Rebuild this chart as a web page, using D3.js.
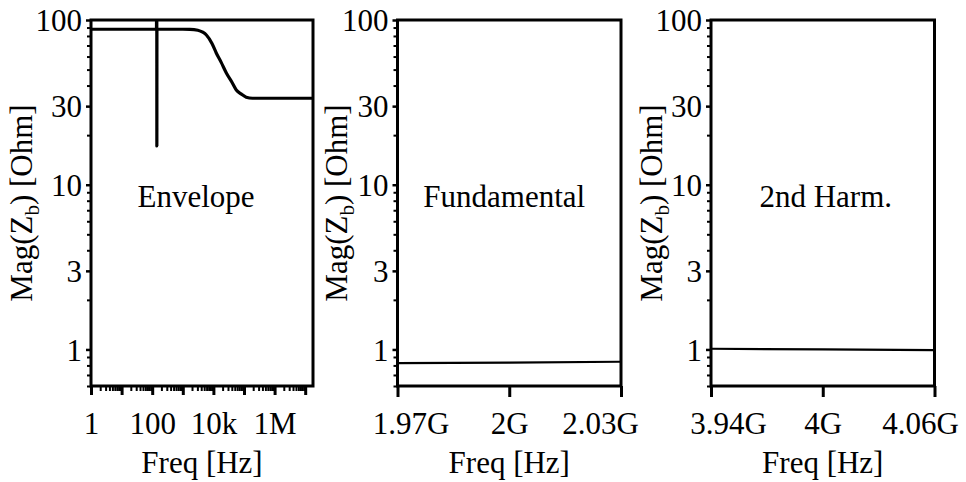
<!DOCTYPE html>
<html>
<head>
<meta charset="utf-8">
<script src="https://cdn.jsdelivr.net/npm/d3@7"></script>
<style>
  html, body { margin: 0; padding: 0; background: #fff; }
  svg { display: block; }
  text { font-family: "Liberation Serif", "Times New Roman", serif; fill: #000; }
</style>
</head>
<body>
<svg id="chart" width="966" height="482"></svg>
<script>
// Impedance magnitude |Zb| vs frequency, three bands

// Envelope band (log frequency)
const envFreq = [1, 10, 100, 138, 141, 142, 143, 1000, 1700, 3100, 4500, 5900, 9000, 12400, 18000, 26500, 40000, 56000, 80000, 118000, 190000, 400000, 1e6, 1e7, 1.8e7];
const envMag  = [87.9, 87.9, 87.9, 87.9, 400, 17.2, 87.9, 87.9, 87.8, 86.7, 84.3, 81.1, 72, 63.1, 55.3, 47.7, 42, 37.6, 35.6, 34.0, 33.5, 33.5, 33.5, 33.5, 33.5];

// Fundamental band
const fundFreq = [1.97e9, 2.0e9, 2.03e9];
const fundMag  = [0.825, 0.832, 0.842];

// Second harmonic band
const harmFreq = [3.94e9, 4.0e9, 4.06e9];
const harmMag  = [1.01, 1.0, 0.99];

// Axis ticks
const yMajorTicks = [1, 3, 10, 30, 100];
const yMinorTicks = [0.6, 0.7, 0.8, 0.9, 2, 4, 5, 6, 7, 8, 9, 20, 40, 50, 60, 70, 80, 90];
const envMajorTicks = [1, 10, 100, 1e3, 1e4, 1e5, 1e6, 1e7];
const envTickLabels = { 1: "1", 100: "100", 10000: "10k", 1000000: "1M" };
const fundTicks = [1.97e9, 2.0e9, 2.03e9];
const fundTickLabels = ["1.97G", "2G", "2.03G"];
const harmTicks = [3.94e9, 4.0e9, 4.06e9];
const harmTickLabels = ["3.94G", "4G", "4.06G"];

const bandNames = ["Envelope", "Fundamental", "2nd Harm."];
const yDomain = [0.6, 100];

const svg = d3.select("#chart");
const FONT = 31;
const plotTop = 20, plotBottom = 386;

const y = d3.scaleLog().domain(yDomain).range([plotBottom, plotTop]);

const panels = [
  { x0: 91, x1: 313, ylabX: 22, lineW: 3.2,
    x: d3.scaleLog().domain([1, 1.8e7]), freq: envFreq, mag: envMag, name: bandNames[0], log: true },
  { x0: 397.5, x1: 621, ylabX: 337, lineW: 2.2,
    x: d3.scaleLinear().domain([1.97e9, 2.03e9]), freq: fundFreq, mag: fundMag, name: bandNames[1],
    ticks: fundTicks, labels: fundTickLabels, nudge: [13, 0, -21] },
  { x0: 711, x1: 934.5, ylabX: 652, lineW: 2.2,
    x: d3.scaleLinear().domain([3.94e9, 4.06e9]), freq: harmFreq, mag: harmMag, name: bandNames[2],
    ticks: harmTicks, labels: harmTickLabels, nudge: [17, 0, -14.5] }
];

panels.forEach((p, i) => {
  p.x.range([p.x0, p.x1]);
  const g = svg.append("g");

  const clipId = "clip" + i;
  svg.append("clipPath").attr("id", clipId)
    .append("rect").attr("x", p.x0).attr("y", plotTop).attr("width", p.x1 - p.x0).attr("height", plotBottom - plotTop);

  // data line
  const pts = p.freq.map((f, k) => [f, p.mag[k]]);
  const line = d3.line()
    .x(d => p.x(d[0]))
    .y(d => y(d[1]))
    .curve(d3.curveMonotoneX);
  g.append("path")
    .attr("d", line(pts))
    .attr("clip-path", `url(#${clipId})`)
    .attr("fill", "none")
    .attr("stroke", "#000")
    .attr("stroke-width", p.lineW)
    .attr("stroke-linejoin", "round");

  // y axis: major and minor ticks
  const yMinor = g.append("g").attr("transform", `translate(${p.x0},0)`)
    .call(d3.axisLeft(y).tickValues(yMinorTicks).tickSize(4).tickFormat(""));
  yMinor.select(".domain").remove();
  yMinor.selectAll("line").attr("stroke-width", 2);

  const yMajor = g.append("g").attr("transform", `translate(${p.x0},0)`)
    .call(d3.axisLeft(y).tickValues(yMajorTicks).tickSize(5).tickPadding(4).tickFormat(d3.format("d")));
  yMajor.select(".domain").remove();
  yMajor.selectAll("line").attr("stroke-width", 2.5);
  yMajor.selectAll("text").attr("font-size", FONT).attr("dy", "0.34em");

  // x axis
  if (p.log) {
    const decades = envMajorTicks;
    const minors = [];
    decades.forEach(d => { for (let m = 2; m <= 9; m++) { const v = d * m; if (v <= p.x.domain()[1]) minors.push(v); } });
    const xMinor = g.append("g").attr("transform", `translate(0,${plotBottom})`)
      .call(d3.axisBottom(p.x).tickValues(minors).tickSize(5).tickFormat(""));
    xMinor.select(".domain").remove();
    xMinor.selectAll("line").attr("stroke-width", 2);

    const xMajor = g.append("g").attr("transform", `translate(0,${plotBottom})`)
      .call(d3.axisBottom(p.x).tickValues(decades).tickSize(9).tickPadding(17)
        .tickFormat(d => envTickLabels[d] || ""));
    xMajor.select(".domain").remove();
    xMajor.selectAll("line").attr("stroke-width", 3);
    xMajor.selectAll("text").attr("font-size", FONT).attr("dy", "0.71em");
  } else {
    const xAx = g.append("g").attr("transform", `translate(0,${plotBottom})`)
      .call(d3.axisBottom(p.x).tickValues(p.ticks).tickSize(11).tickPadding(15)
        .tickFormat((d, k) => p.labels[k]));
    xAx.select(".domain").remove();
    xAx.selectAll("line").attr("stroke-width", 3);
    xAx.selectAll("text").attr("font-size", FONT).attr("dy", "0.71em")
      .attr("x", (d, k) => p.nudge[k]);
  }

  // frame
  g.append("rect")
    .attr("x", p.x0).attr("y", plotTop)
    .attr("width", p.x1 - p.x0).attr("height", plotBottom - plotTop)
    .attr("fill", "none").attr("stroke", "#000").attr("stroke-width", 3);

  // band name
  g.append("text")
    .attr("x", (p.x0 + p.x1) / 2 - (i === 0 ? 6 : i === 1 ? 5 : -3))
    .attr("y", 207)
    .attr("text-anchor", "middle")
    .attr("font-size", FONT)
    .text(p.name);

  // axis titles
  g.append("text")
    .attr("x", (p.x0 + p.x1) / 2)
    .attr("y", 473)
    .attr("text-anchor", "middle")
    .attr("font-size", FONT)
    .text("Freq [Hz]");

  const yl = g.append("text")
    .attr("transform", `translate(${p.ylabX + 10},${(plotTop + plotBottom) / 2}) rotate(-90)`)
    .attr("text-anchor", "middle")
    .attr("font-size", FONT);
  yl.append("tspan").text("Mag(Z");
  yl.append("tspan").attr("font-size", FONT * 0.68).attr("dy", 7).text("b");
  yl.append("tspan").attr("dy", -7).text(") [Ohm]");
});
</script>
</body>
</html>
